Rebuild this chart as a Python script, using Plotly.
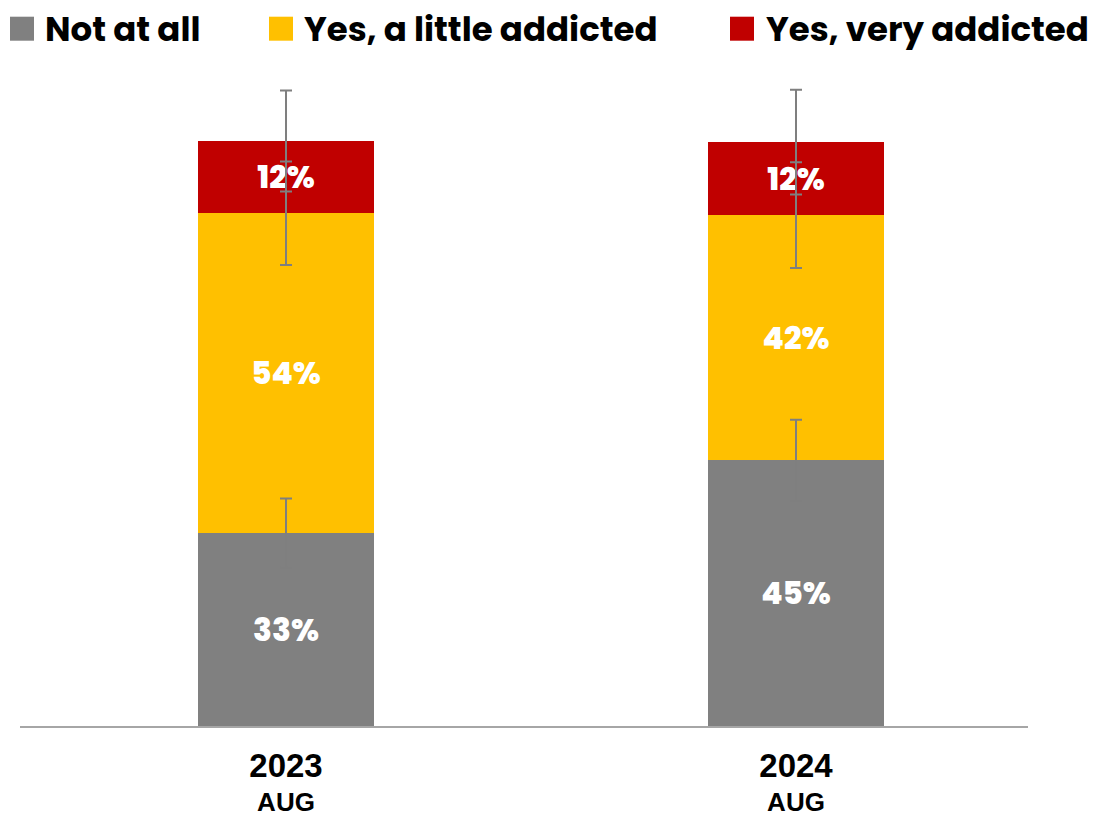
import plotly.graph_objects as go

# 數據
years = ["2023", "2024"]
months = ["AUG", "AUG"]
series_names = ["Not at all", "Yes, a little addicted", "Yes, very addicted"]
series_colors = ["#808080", "#FFC000", "#C00000"]
not_at_all = [32.8, 45.2]
a_little = [54.4, 41.7]
very = [12.3, 12.4]
err_not_at_all = [5.9, 6.9]
err_a_little = [8.8, 9.0]
err_very = [8.6, 8.9]

values = [not_at_all, a_little, very]
errors = [err_not_at_all, err_a_little, err_very]

# 頁面 body 有 8px 邊距，所以圖比視窗小 8px
W, H = 1089, 807
L, R, T, B = 12, 69, 73, 89
LABEL_FONT = "Poppins, Open Sans, sans-serif"


# 以參考圖的像素座標換算成 paper 座標（繪圖區：x 20~1028, y 81~726）
def px_x(px):
    return (px - 20) / 1008


def px_y(py):
    return (726 - py) / 645


fig = go.Figure()

# 堆疊柱狀
for name, color, vals in zip(series_names, series_colors, values):
    fig.add_trace(go.Bar(
        x=years, y=vals, name=name,
        marker=dict(color=color, line_width=0),
        width=0.345,
        texttemplate="%{y:.0f}%",
        textposition="inside", insidetextanchor="middle",
        textfont=dict(color="white", size=31, family=LABEL_FONT, weight=800),
        constraintext="none",
        showlegend=False,
    ))

# 誤差線（畫在柱子上方）
tops = [0, 0]
for vals, errs in zip(values, errors):
    tops = [t + v for t, v in zip(tops, vals)]
    fig.add_trace(go.Scatter(
        x=years, y=tops, mode="markers",
        marker=dict(opacity=0, size=1),
        error_y=dict(type="data", array=errs, visible=True,
                     color="#7f7f7f", thickness=2, width=6),
        showlegend=False, hoverinfo="skip",
    ))

# 手動圖例
legend_sq_x = [10, 269, 730]
legend_txt_x = [44, 303, 765]
shapes = []
annotations = []
for name, color, sx, tx in zip(series_names, series_colors, legend_sq_x, legend_txt_x):
    shapes.append(dict(type="rect", xref="paper", yref="paper",
                       x0=px_x(sx), x1=px_x(sx + 24),
                       y0=px_y(40.7), y1=px_y(16.7),
                       fillcolor=color, line_width=0))
    annotations.append(dict(xref="paper", yref="paper",
                            x=px_x(tx), y=px_y(28.5), xanchor="left", yanchor="middle",
                            text=name, showarrow=False, borderpad=0,
                            font=dict(size=34, color="black", family=LABEL_FONT, weight=700)))

ticktext = [f"<span style='font-size:33px'><b>{y}</b></span><br><b>{m}</b>"
            for y, m in zip(years, months)]

fig.update_layout(
    barmode="stack",
    width=W, height=H,
    margin=dict(l=L, r=R, t=T, b=B),
    plot_bgcolor="white", paper_bgcolor="white",
    xaxis=dict(range=[-0.5216, 1.4549], tickvals=years, ticktext=ticktext,
               tickfont=dict(size=26, color="black", family="Liberation Sans, Arial"),
               showline=True, linecolor="#a6a6a6", linewidth=2,
               showgrid=False, ticks="", layer="below traces",
               automargin=False, ticklabelstandoff=18),
    yaxis=dict(range=[0, 109.7], visible=False, automargin=False),
    shapes=shapes,
    annotations=annotations,
)

fig.write_html("out.html")
